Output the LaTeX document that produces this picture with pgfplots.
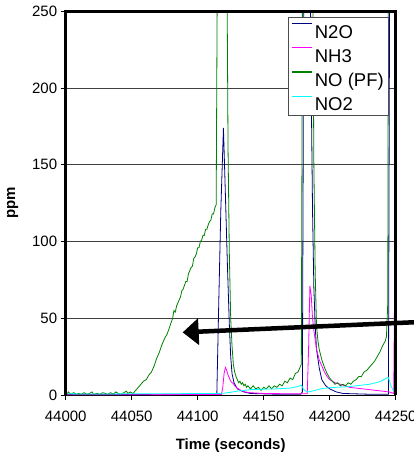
\documentclass[border=0pt]{standalone}
\usepackage{fontspec}
\setmainfont{Liberation Sans}
\usepackage{pgfplots}
\pgfplotsset{compat=1.18}
\usetikzlibrary{arrows.meta}
\definecolor{cN2O}{RGB}{0,0,128}
\definecolor{cNH3}{RGB}{255,0,255}
\definecolor{cNO}{RGB}{0,128,0}
\definecolor{cNO2}{RGB}{0,255,255}
\begin{document}
\begin{tikzpicture}
\useasboundingbox (-65.7pt,-57pt) rectangle (348.3pt,395pt);
\begin{axis}[name=ax, scale only axis, width=330pt, height=383.7pt, at={(0pt,0pt)}, anchor=south west,
  xmin=44000, xmax=44250, ymin=0, ymax=250, scaled x ticks=false,
  xtick={44000,44050,44100,44150,44200,44250}, xticklabels={44000,44050,44100,44150,44200,44250},
  ytick={0,50,100,150,200,250}, yticklabels={0,50,100,150,200,250},
  xtick pos=left, ytick pos=left,
  tick align=outside, major tick length=5pt, tick style={black, line width=0.8pt},
  ymajorgrids, major grid style={black!75, line width=0.6pt},
  axis line style={black, line width=0.8pt},
  ticklabel style={font=\fontsize{15}{18}\selectfont},
  xticklabel style={yshift=-7pt},
  xlabel={Time (seconds)}, ylabel={ppm},
  label style={font=\bfseries\fontsize{15}{18}\selectfont},
  xlabel style={at={(axis description cs:0.5,-0.1330)}, anchor=center},
  ylabel style={at={(axis description cs:-0.1606,0.5)}, anchor=center},
  legend style={at={(axis description cs:0.6745,0.986)}, anchor=north west, draw=black!70, line width=0.6pt,
    font=\fontsize{18.5}{21}\selectfont, inner xsep=2.5pt, inner ysep=1pt, row sep=0pt,
    nodes={inner xsep=2.5pt, inner ysep=4.1pt, text height=16pt, text depth=0pt},
    cells={anchor=west}, fill=white},
  legend image code/.code={\draw[#1, line width=1.3pt] (0pt,6.5pt) -- (20pt,6.5pt);},
  legend entries={N2O,NH3,NO (PF),NO2},
]
% N2O
\addplot[cN2O, line width=0.8pt] coordinates {
(44000,0.3) (44050,0.3) (44100,0.5) (44113,0.5) (44114.5,1) (44116,62) (44117.5,120) (44119.5,174)
(44121,130) (44122.5,85) (44124,45) (44125,25) (44126,14) (44127.5,8) (44130,4) (44135,2) (44140,1)
(44160,0.5) (44178,0.5) (44179.3,2) (44180.5,300) (44185,300) (44186,200) (44187,120) (44188,70)
(44189,45) (44190,30) (44192,18) (44194,10) (44197,6) (44200,4) (44205,2) (44210,1) (44230,0.5)
(44244.5,0.5) (44245.5,300) (44250,300)
};
% NH3
\addplot[cNH3, line width=0.8pt] coordinates {
(44000,0.2) (44050,0.2) (44100,0.3) (44118,0.3) (44119,5) (44120,14) (44121,18) (44122,16) (44123,13)
(44124,11) (44125,9) (44126,8) (44127,7.5) (44128,6) (44130,4.5) (44132,3.3) (44136,2) (44140,1.5)
(44150,1) (44170,0.8) (44183,0.8) (44184,30) (44185,71) (44186,65) (44187,50) (44188,42) (44189,36)
(44190,30) (44192,23) (44194,19) (44196,15) (44198,12) (44200,10) (44204,8) (44208,7) (44215,5)
(44225,4) (44235,3) (44245,2) (44248.5,1) (44249.5,104) (44250,104)
};
% NO (PF)
\addplot[cNO, line width=0.8pt] coordinates {
(44000,1.5) (44001,0.5) (44002,2) (44003,1) (44004,0.5) (44006,1.5) (44008,0.5) (44010,1) (44012,0.5)
(44014,1.5) (44016,0.5) (44018,1) (44020,2) (44021,0.5) (44024,1) (44026,0.5) (44028,1.5) (44030,1)
(44032,0.5) (44034,1.5) (44036,0.5) (44038,2) (44040,1) (44042,0.5) (44044,1.5) (44046,2.5) (44047,1)
(44049,2) (44051,1) (44053,3) (44055,5) (44057,7) (44059,9) (44061,10) (44063,13) (44065,15) (44067,19)
(44069,24) (44071,28) (44073,33) (44075,37) (44077,40) (44079,45) (44081,50) (44082,55) (44083,54)
(44084,58) (44086,62) (44087,64) (44088,68) (44089,69) (44091,74) (44092,74) (44093,79) (44095,83)
(44096,84) (44097,89) (44098,90) (44099,92) (44100,96) (44101,96) (44102,100) (44103,101) (44104,104)
(44105,104) (44106,108) (44107,108) (44108,111) (44109,113) (44110,114) (44111,118) (44112,118)
(44113,122) (44114,124) (44115,300) (44122,300) (44123,160) (44124,90) (44125,50) (44126,32) (44127,20)
(44128,15) (44129,12) (44130,10) (44131,8) (44132,9) (44133,7) (44134,8) (44135,6) (44136,7) (44137,5)
(44138,6) (44140,4) (44142,6) (44144,4) (44146,5) (44148,3) (44150,5) (44152,4) (44154,6) (44156,4)
(44158,6) (44160,5) (44162,7) (44164,6) (44166,9) (44168,8) (44170,11) (44172,10) (44174,14) (44176,15)
(44177,17) (44178.5,20) (44179.5,300) (44187,300) (44188,150) (44189,80) (44190,45) (44191,36)
(44192,30) (44194,23) (44196,18) (44198,14) (44200,11) (44202,9) (44204,7) (44206,8) (44208,6)
(44210,7) (44212,6) (44214,8) (44216,7) (44218,9) (44220,10) (44222,12) (44224,12) (44226,15)
(44228,16) (44230,18) (44232,20) (44234,22) (44236,25) (44238,28) (44240,32) (44242,35) (44243,38)
(44244,60) (44244.5,300) (44250,300)
};
% NO2
\addplot[cNO2, line width=0.8pt] coordinates {
(44000,0.8) (44020,0.6) (44050,0.8) (44080,0.8) (44100,1) (44115,1) (44120,1.2) (44125,1.8)
(44130,2.5) (44135,3) (44140,3.5) (44150,3.8) (44160,4) (44170,4.5) (44176,5.5) (44178.5,6.5)
(44180,4) (44182.5,2) (44185,2.2) (44190,3.3) (44195,4.3) (44200,4.7) (44205,5) (44210,5.2)
(44215,5.5) (44220,6) (44225,6.5) (44230,7) (44235,8) (44238,8.7) (44241,10) (44244.4,11.5)
(44246,7) (44248,3) (44250,2)
};
\coordinate (A1) at (axis cs:44272,47.7);
\coordinate (A2) at (axis cs:44088.6,40.8);
\end{axis}
\draw[line width=3pt] (ax.south west) -- (ax.north west) -- (ax.north east) -- (ax.south east);
\draw[line width=4.5pt, -{Triangle[length=16pt,width=26pt]}] (A1) -- (A2);
\end{tikzpicture}
\end{document}
